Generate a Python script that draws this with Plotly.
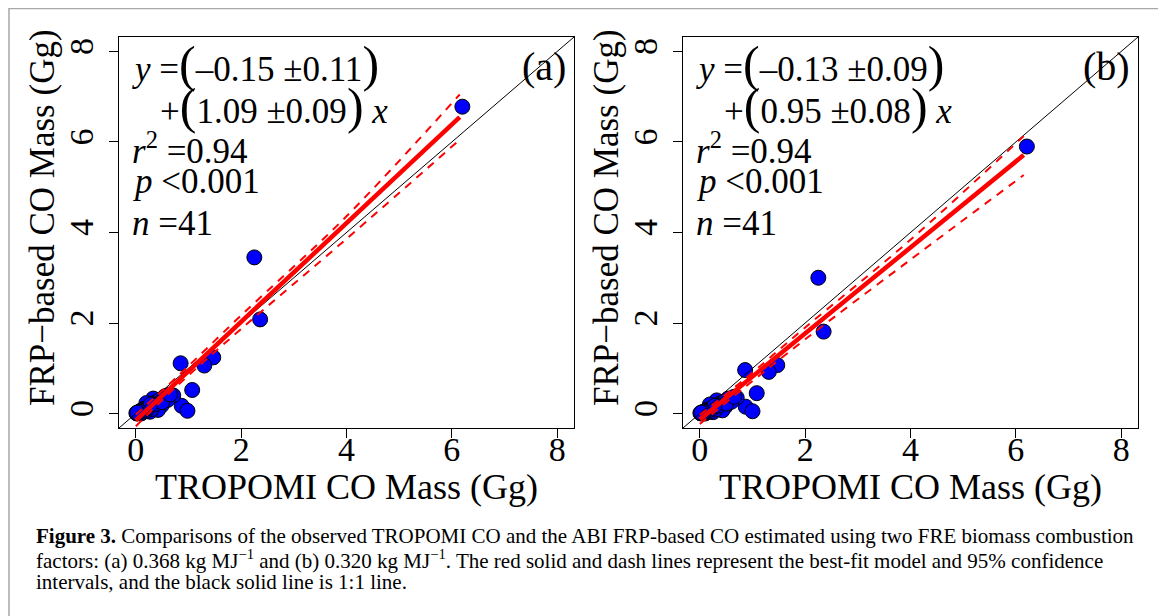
import plotly.graph_objects as go

# ---------------- data ----------------
tick_vals = [0, 2, 4, 6, 8]
tick_text = ["0", "2", "4", "6", "8"]

trop_a = [6.20, 2.25, 2.36, 1.47, 1.30, 0.85, 1.07, 0.87, 0.98, 0.71, 0.55, 0.33, 0.20, 0.49,
          0.42, 0.27, 0.03, 0.10, 0.05, 0.15, 0.38, 0.60, 0.25, 0.02, 0.08, 0.12, 0.30, 0.45,
          0.18, 0.06, 0.04, 0.01, 0.22, 0.35, 0.14, 0.09, 0.50, 0.65, 0.28, 0.07, 0.03]
frp_a = [6.78, 3.45, 2.08, 1.24, 1.06, 1.11, 0.52, 0.17, 0.06, 0.40, 0.38, 0.33, 0.23, 0.18,
         0.08, 0.04, 0.01, 0.00, 0.03, 0.10, 0.25, 0.30, 0.15, 0.00, 0.05, 0.08, 0.10, 0.30,
         0.05, 0.02, 0.01, 0.01, 0.12, 0.20, 0.06, 0.03, 0.25, 0.42, 0.20, 0.04, 0.02]

trop_b = [6.21, 2.25, 2.35, 1.47, 1.31, 0.86, 1.08, 0.87, 1.00, 0.70, 0.54, 0.32, 0.19, 0.48,
          0.43, 0.25, 0.03, 0.10, 0.05, 0.15, 0.38, 0.60, 0.25, 0.02, 0.08, 0.12, 0.30, 0.45,
          0.18, 0.06, 0.04, 0.01, 0.22, 0.35, 0.14, 0.09, 0.50, 0.65, 0.28, 0.07, 0.03]
frp_b = [5.90, 3.00, 1.81, 1.07, 0.92, 0.96, 0.45, 0.15, 0.05, 0.35, 0.33, 0.29, 0.20, 0.15,
         0.07, 0.03, 0.01, 0.00, 0.03, 0.09, 0.22, 0.26, 0.13, 0.00, 0.04, 0.07, 0.09, 0.26,
         0.04, 0.02, 0.01, 0.01, 0.10, 0.17, 0.05, 0.03, 0.22, 0.37, 0.17, 0.03, 0.02]

# best-fit lines and 95% confidence bounds
fit_x = [0.0, 6.15]
fit_a = [-0.15, 6.55]
fit_b = [-0.13, 5.71]
ci_x = [0.0, 0.8, 2.0, 4.0, 6.15]
ci_up_a = [-0.02, 0.83, 2.17, 4.36, 7.05]
ci_lo_a = [-0.28, 0.63, 1.87, 3.86, 6.05]
ci_up_b = [-0.03, 0.71, 1.90, 3.84, 6.13]
ci_lo_b = [-0.23, 0.53, 1.64, 3.40, 5.27]
one_x = [-0.32, 8.32]

eq_a = ["–0.15 ±0.11", "1.09 ±0.09"]
eq_b = ["–0.13 ±0.09", "0.95 ±0.08"]
r2_vals = ["0.94", "0.94"]
p_vals = ["&lt;0.001", "&lt;0.001"]
n_vals = ["41", "41"]
panel_labels = ["(a)", "(b)"]

# page body has an 8px margin, so the figure starts at (8, 8) of the window
OFF = 8
W, H = 1166 - OFF, 616 - OFF
FONT = "Liberation Serif, Times New Roman, serif"


def px(x):
    return (x - OFF) / W


def py(y):
    return 1 - (y - OFF) / H


fig = go.Figure()

panels = [
    dict(x=trop_a, y=frp_a, fit=fit_a, up=ci_up_a, lo=ci_lo_a, xa="x", ya="y"),
    dict(x=trop_b, y=frp_b, fit=fit_b, up=ci_up_b, lo=ci_lo_b, xa="x2", ya="y2"),
]
for p in panels:
    fig.add_trace(go.Scatter(x=p["x"], y=p["y"], mode="markers", xaxis=p["xa"], yaxis=p["ya"],
                             marker=dict(size=15, color="#0000FF", line=dict(color="black", width=1)),
                             showlegend=False, hoverinfo="skip"))
    fig.add_trace(go.Scatter(x=one_x, y=one_x, mode="lines", xaxis=p["xa"], yaxis=p["ya"],
                             line=dict(color="black", width=1), showlegend=False, hoverinfo="skip"))
    fig.add_trace(go.Scatter(x=fit_x, y=p["fit"], mode="lines", xaxis=p["xa"], yaxis=p["ya"],
                             line=dict(color="#FF0000", width=4.5), showlegend=False, hoverinfo="skip"))
    for ci in (p["up"], p["lo"]):
        fig.add_trace(go.Scatter(x=ci_x, y=ci, mode="lines", xaxis=p["xa"], yaxis=p["ya"],
                                 line=dict(color="#FF0000", width=2, dash="8px,7px", shape="spline"),
                                 showlegend=False, hoverinfo="skip"))

ax_common = dict(range=[-0.32, 8.32], showgrid=False, zeroline=False, showline=True,
                 linecolor="black", linewidth=1, mirror=True, ticks="outside", ticklen=9,
                 tickwidth=1, tickcolor="black", tickvals=tick_vals, ticktext=tick_text,
                 tickfont=dict(family=FONT, size=34, color="black"), fixedrange=True)

dom_a = [px(119), px(574)]
dom_b = [px(683), px(1138)]
dom_y = [py(428), py(37)]

fig.update_layout(
    width=W, height=H, margin=dict(l=0, r=0, t=0, b=0),
    paper_bgcolor="white", plot_bgcolor="white",
    xaxis=dict(domain=dom_a, anchor="y", ticklabelstandoff=-18, **ax_common),
    yaxis=dict(domain=dom_y, anchor="x", tickangle=-90, ticklabelstandoff=2, **ax_common),
    xaxis2=dict(domain=dom_b, anchor="y2", ticklabelstandoff=-18, **ax_common),
    yaxis2=dict(domain=dom_y, anchor="x2", tickangle=-90, ticklabelstandoff=2, **ax_common),
)

ann = []
BIG = "<span style='font-size:50px'>%s</span>"
for i, off in enumerate([0, 564]):
    eq = eq_a if i == 0 else eq_b
    left = 130 + off
    ann.append(dict(x=px(left), y=py(64), text="<i>y</i> =" + BIG % "(" + eq[0] + BIG % ")",
                    font=dict(size=35)))
    ann.append(dict(x=px(left + 28), y=py(106), text="+" + BIG % "(" + eq[1] + BIG % ")" + " <i>x</i>",
                    font=dict(size=35)))
    ann.append(dict(x=px(left), y=py(148), text="<i>r</i><sup>2</sup> =" + r2_vals[i], font=dict(size=35)))
    ann.append(dict(x=px(left), y=py(182), text="<i>p</i> " + p_vals[i], font=dict(size=35)))
    ann.append(dict(x=px(left), y=py(223), text="<i>n</i> =" + n_vals[i], font=dict(size=35)))
    ann.append(dict(x=px(568 + off), y=py(66), text=panel_labels[i], xanchor="right",
                    font=dict(size=40)))
    ann.append(dict(x=px(346.5 + off), y=py(487), text="TROPOMI CO Mass (Gg)", xanchor="center",
                    font=dict(size=36)))
    ann.append(dict(x=px(42 + off), y=py(218), text="FRP−based CO Mass (Gg)", xanchor="center",
                    textangle=-90, font=dict(size=35)))

cap_lines = [
    "<b>Figure 3.</b> Comparisons of the observed TROPOMI CO and the ABI FRP-based CO estimated using two FRE biomass combustion",
    "factors: (a) 0.368 kg MJ<sup>−1</sup> and (b) 0.320 kg MJ<sup>−1</sup>. The red solid and dash lines represent the best-fit model and 95% confidence",
    "intervals, and the black solid line is 1:1 line.",
]
for k, t in enumerate(cap_lines):
    ann.append(dict(x=px(34), y=py(536 + 23 * k), text=t, font=dict(size=21)))

for a in ann:
    a.setdefault("xanchor", "left")
    a["yanchor"] = "middle"
    a["xref"] = "paper"
    a["yref"] = "paper"
    a["showarrow"] = False
    a["font"] = dict(family=FONT, color="black", **a["font"])
fig.update_layout(annotations=ann)

fig.add_shape(type="rect", xref="paper", yref="paper", x0=px(9), x1=px(1163), y0=-0.05, y1=py(8.5),
              line=dict(color="#A8A8A8", width=1.5), fillcolor="rgba(0,0,0,0)", layer="below")

fig.write_html("out.html")
